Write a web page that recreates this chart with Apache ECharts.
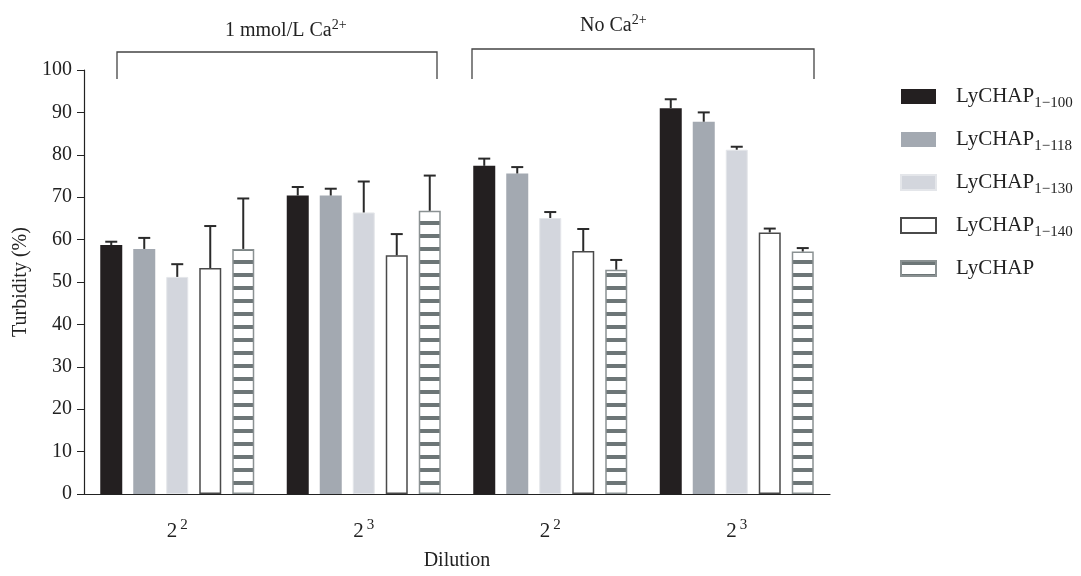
<!DOCTYPE html>
<html>
<head>
<meta charset="utf-8">
<script src="https://cdn.jsdelivr.net/npm/echarts@6/dist/echarts.min.js"></script>
<style>
  html, body { margin: 0; padding: 0; background: #fff; overflow: hidden; }
  #chart { width: 1081px; height: 576px; }
</style>
</head>
<body>
<div id="chart"></div>
<script>
// ---- Data ----
const categories = ['Ca 2^2', 'Ca 2^3', 'NoCa 2^2', 'NoCa 2^3'];
const tickBase = ['2', '2', '2', '2'];
const tickExp = ['2', '3', '2', '3'];
const yTicks = { min: 0, max: 100, interval: 10 };

const seriesNames = ['LyCHAP1-100', 'LyCHAP1-118', 'LyCHAP1-130', 'LyCHAP1-140', 'LyCHAP'];
const seriesSubs = ['1\u2212100', '1\u2212118', '1\u2212130', '1\u2212140', ''];

const val100 = [58.7, 70.4, 77.4, 91.0];
const err100 = [0.8, 2.0, 1.7, 2.1];
const val118 = [57.8, 70.4, 75.6, 87.8];
const err118 = [2.6, 1.6, 1.5, 2.2];
const val130 = [51.2, 66.4, 65.1, 81.2];
const err130 = [3.0, 7.3, 1.4, 0.7];
const val140 = [53.3, 56.3, 57.3, 61.7];
const err140 = [9.9, 5.0, 5.2, 0.9];
const valAll = [57.8, 66.8, 52.9, 57.2];
const errAll = [11.9, 8.3, 2.3, 0.8];

const values = [val100, val118, val130, val140, valAll];
const errors = [err100, err118, err130, err140, errAll];

// ---- Styles ----
const FONT = '"Liberation Serif", "DejaVu Serif", serif';
const BAR_W = 22;
const BAR_GAP = 0.5;

function stripeCanvas() {
  const c = document.createElement('canvas');
  c.width = 8; c.height = 13;
  const ctx = c.getContext('2d');
  ctx.fillStyle = '#ffffff';
  ctx.fillRect(0, 0, 8, 13);
  ctx.fillStyle = '#6d7677';
  ctx.fillRect(0, 0, 8, 4);
  return c;
}

const itemStyles = [
  { color: '#231f20', borderColor: '#231f20', borderWidth: 0 },
  { color: '#a3a9b1', borderColor: '#a3a9b1', borderWidth: 0 },
  { color: '#d3d6dd', borderColor: '#e4e6ea', borderWidth: 1 },
  { color: '#ffffff', borderColor: '#4a4a4a', borderWidth: 1.5 },
  { color: { image: stripeCanvas(), repeat: 'repeat' }, borderColor: '#8a9192', borderWidth: 1.5 }
];

const chart = echarts.init(document.getElementById('chart'), null, { renderer: 'canvas', width: 1081, height: 576 });

const series = [];
values.forEach((vals, i) => {
  series.push({
    name: seriesNames[i],
    type: 'bar',
    data: vals,
    barWidth: BAR_W,
    barGap: (BAR_GAP * 100) + '%',
    itemStyle: itemStyles[i],
    emphasis: { disabled: true },
    z: 2
  });
});
values.forEach((vals, i) => {
  series.push({
    name: seriesNames[i] + '-err',
    type: 'custom',
    z: 3,
    silent: true,
    data: vals.map((v, k) => [k, v, errors[i][k]]),
    encode: { x: 0, y: [1, 2] },
    renderItem: function (params, api) {
      const k = api.value(0);
      const v = api.value(1);
      const e = api.value(2);
      const base = api.coord([k, v]);
      const top = api.coord([k, v + e]);
      const off = (i - 2) * BAR_W * (1 + BAR_GAP);
      const x = base[0] + off;
      const st = { stroke: '#2a2a2a', lineWidth: 2 };
      return {
        type: 'group',
        children: [
          { type: 'line', shape: { x1: x, y1: base[1], x2: x, y2: top[1] }, style: st },
          { type: 'line', shape: { x1: x - 6, y1: top[1], x2: x + 6, y2: top[1] }, style: st }
        ]
      };
    }
  });
});

const option = {
  animation: false,
  backgroundColor: '#ffffff',
  textStyle: { fontFamily: FONT },
  grid: { left: 84, width: 746, top: 70, height: 430, containLabel: false },
  legend: {
    data: seriesNames,
    orient: 'vertical',
    left: 895,
    top: 81,
    itemWidth: 35,
    itemHeight: 15,
    itemGap: 18,
    icon: 'rect',
    selectedMode: false,
    formatter: function (name) {
      const i = seriesNames.indexOf(name);
      return seriesSubs[i] ? 'LyCHAP{sub|' + seriesSubs[i] + '}' : 'LyCHAP';
    },
    textStyle: {
      fontFamily: FONT, fontSize: 21, color: '#222', padding: [0, 0, 0, 15],
      rich: {
        sub: { fontFamily: FONT, fontSize: 15, color: '#222', padding: [14, 0, 0, 0] }
      }
    }
  },
  xAxis: {
    type: 'category',
    data: categories,
    name: 'Dilution',
    nameLocation: 'middle',
    nameGap: 57,
    nameTextStyle: { fontFamily: FONT, fontSize: 20, color: '#222' },
    axisLine: { lineStyle: { color: '#222', width: 1.2 } },
    axisTick: { show: true, inside: true, length: 5, alignWithLabel: true, lineStyle: { color: '#222' } },
    axisLabel: {
      interval: 0,
      margin: 24,
      formatter: function (value, idx) {
        return '{b|' + tickBase[idx] + '}{s|' + tickExp[idx] + '}';
      },
      rich: {
        b: { fontFamily: FONT, fontSize: 21, color: '#222' },
        s: { fontFamily: FONT, fontSize: 15, color: '#222', padding: [0, 0, 12, 3] }
      }
    }
  },
  yAxis: {
    type: 'value',
    min: yTicks.min,
    max: yTicks.max,
    interval: yTicks.interval,
    name: 'Turbidity (%)',
    nameLocation: 'middle',
    nameGap: 46,
    nameRotate: 90,
    nameTextStyle: { fontFamily: FONT, fontSize: 20, color: '#222' },
    axisLine: { show: true, lineStyle: { color: '#222', width: 1.2 } },
    axisTick: { show: true, inside: false, length: 7, lineStyle: { color: '#222' } },
    axisLabel: { margin: 12, fontFamily: FONT, fontSize: 20, color: '#222' },
    splitLine: { show: false }
  },
  series: series,
  graphic: [
    { type: 'polyline', shape: { points: [[117, 79], [117, 52], [437, 52], [437, 79]] },
      style: { stroke: '#444', lineWidth: 1.3, fill: null } },
    { type: 'polyline', shape: { points: [[472, 79], [472, 49], [814, 49], [814, 79]] },
      style: { stroke: '#444', lineWidth: 1.3, fill: null } },
    { type: 'text', left: 225, top: 18,
      style: { text: '1 mmol/L Ca{sup|2+}', fontFamily: FONT, fontSize: 20, fill: '#222',
        rich: { sup: { fontFamily: FONT, fontSize: 14, fill: '#222', padding: [0, 0, 12, 0] } } } },
    { type: 'text', left: 580, top: 13,
      style: { text: 'No Ca{sup|2+}', fontFamily: FONT, fontSize: 20, fill: '#222',
        rich: { sup: { fontFamily: FONT, fontSize: 14, fill: '#222', padding: [0, 0, 12, 0] } } } }
  ]
};

chart.setOption(option);
</script>
</body>
</html>
